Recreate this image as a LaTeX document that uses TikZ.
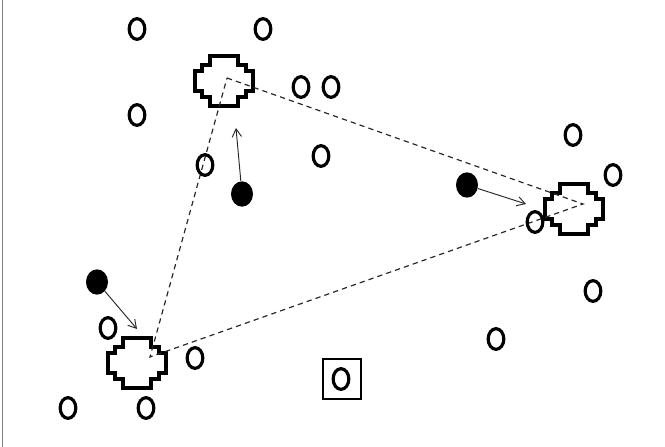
\documentclass[tikz,border=0pt]{standalone}
\usepackage{tikz}
\usetikzlibrary{shapes.geometric, arrows.meta}
\tikzset{
	ring/.style     ={ellipse, draw=black, line width=2.7pt, minimum width=0.47cm, minimum height=0.62cm, inner sep=0pt},
	blackdot/.style ={ellipse, fill=black, minimum width=0.66cm, minimum height=0.76cm, inner sep=0pt},
	boxring/.style  ={rectangle, draw=black, line width=2pt, minimum width=1.14cm, minimum height=1.2cm, inner sep=0pt},
	linkline/.style ={black!85, line width=1pt, dash pattern=on 4.5pt off 3.5pt},
	moveline/.style ={-{Straight Barb[length=2.4mm, width=2.8mm]}, line width=0.8pt, black!85},
	pics/hub/.style ={code={
		\draw[line width=3pt, fill=white] (-14,-25) -- (14,-25) -- (14,-16) -- (22,-16) -- (22,-10) -- (29,-10)
			-- (29,10) -- (22,10) -- (22,16) -- (14,16) -- (14,25) -- (-14,25) -- (-14,16) -- (-22,16)
			-- (-22,10) -- (-29,10) -- (-29,-10) -- (-22,-10) -- (-22,-16) -- (-14,-16) -- cycle;
	}},
}
\begin{document}
\begin{tikzpicture}[x=0.03cm, y=-0.03cm]
	\useasboundingbox (0,0) rectangle (665,447);
	\draw[gray, line width=1.5pt] (2.5,0) -- (2.5,447);

	% stations
	\pic at (224,81) {hub};
	\pic at (574,209) {hub};
	\pic at (137,363) {hub};
	\coordinate (vA) at (227,78);
	\coordinate (vB) at (583,204);
	\coordinate (vC) at (150,357);
	\draw[linkline] (vA) -- (vB) -- (vC) -- cycle;

	% free points
	\node[ring] (r1)  at (137,29)  {};
	\node[ring] (r2)  at (263,29)  {};
	\node[ring] (r3)  at (301,87)  {};
	\node[ring] (r4)  at (331,87)  {};
	\node[ring] (r5)  at (137,115) {};
	\node[ring] (r6)  at (321,156) {};
	\node[ring] (r7)  at (205,165) {};
	\node[ring] (r8)  at (573,135) {};
	\node[ring] (r9)  at (613,175) {};
	\node[ring] (r10) at (535,222) {};
	\node[ring] (r11) at (593,291) {};
	\node[ring] (r12) at (496,339) {};
	\node[ring] (r13) at (108,328) {};
	\node[ring] (r14) at (195,358) {};
	\node[ring] (r15) at (68,408)  {};
	\node[ring] (r16) at (146,408) {};
	\node[boxring] (sq) at (342,379) {};
	\node[ring] (r17) at (341,379) {};

	% moving points
	\node[blackdot] (dA) at (242,194) {};
	\node[blackdot] (dB) at (467,185) {};
	\node[blackdot] (dC) at (97,282)  {};
	\coordinate (tA) at (236,128);
	\coordinate (tB) at (526,204);
	\coordinate (tC) at (137,329);
	\draw[moveline] (dA) -- (tA);
	\draw[moveline] (dB) -- (tB);
	\draw[moveline] (dC) -- (tC);
\end{tikzpicture}
\end{document}
